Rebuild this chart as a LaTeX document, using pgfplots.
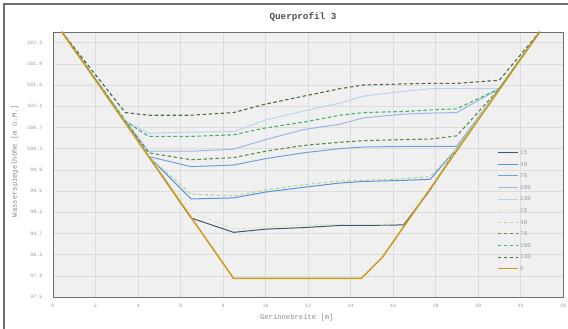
\documentclass[border=0pt]{standalone}
\usepackage{fontspec}
\setmainfont{Liberation Mono}
\usepackage{pgfplots}
\pgfplotsset{compat=1.18}
\definecolor{bggray}{HTML}{F0F0F0}
\definecolor{gridgray}{HTML}{DCDCDC}
\definecolor{framegray}{HTML}{6E6E6E}
\definecolor{tickgray}{HTML}{9A9A9A}
\definecolor{labelgray}{HTML}{8A8A8A}
\definecolor{titlegray}{HTML}{505050}
\definecolor{cSa}{HTML}{44546A}
\definecolor{cSb}{HTML}{5B93D6}
\definecolor{cSc}{HTML}{72A2DC}
\definecolor{cSd}{HTML}{9EB6E6}
\definecolor{cSe}{HTML}{BFD0F0}
\definecolor{cDa}{HTML}{D5E8CB}
\definecolor{cDb}{HTML}{B4D6A2}
\definecolor{cDc}{HTML}{5E8A4E}
\definecolor{cDd}{HTML}{3DB56E}
\definecolor{cDe}{HTML}{4E6B3F}
\definecolor{cGold}{HTML}{CC9A1E}
\begin{document}
\begin{tikzpicture}
\useasboundingbox (0pt,0pt) rectangle (568pt,329pt);
\fill[white] (0pt,0pt) rectangle (568pt,329pt);
\draw[line width=1.3pt, color=framegray] (4pt,0pt) -- (4pt,325pt) -- (568pt,325pt);
\node[font=\fontsize{9.3}{10}\selectfont\bfseries, text=titlegray] at (303pt,312pt) {Querprofil 3};
\begin{axis}[at={(53pt,32pt)}, anchor=south west, width=510pt, height=265pt, scale only axis,
  xmin=0, xmax=24, ymin=97.5, ymax=102.5,
  xtick={0,2,4,6,8,10,12,14,16,18,20,22,24},
  ytick={97.5,97.9,98.3,98.7,99.1,99.5,99.9,100.3,100.7,101.1,101.5,101.9,102.3},
  yticklabel style={/pgf/number format/fixed, /pgf/number format/fixed zerofill, /pgf/number format/precision=1},
  /pgf/number format/assume math mode=true,
  grid=major, grid style={color=gridgray, line width=0.5pt},
  axis background/.style={fill=bggray},
  axis line style={color=framegray, line width=0.9pt},
  major tick length=0pt, tick style={draw=none},
  ticklabel style={font=\fontsize{5}{5}\selectfont, text=tickgray, inner sep=0pt},
  xticklabel style={anchor=center, yshift=-8.6pt},
  yticklabel style={anchor=east, xshift=-10.3pt},
  xlabel={Gerinnebreite [m]},
  ylabel={Wasserspiegelhöhe [m ü.M.]},
  label style={font=\fontsize{7.2}{7.2}\selectfont, text=labelgray},
  xlabel style={at={(axis description cs:0.478,-0.0792)}, anchor=center},
  ylabel style={at={(axis description cs:-0.0745,0.513)}, anchor=center},
  legend style={at={(axis description cs:0.8706,0.552)}, anchor=north west, draw=none, fill=none,
    font=\fontsize{5.9}{5.9}\selectfont, text=tickgray, inner sep=0pt, row sep=8.1pt, column sep=1.5pt,
    nodes={inner sep=0pt, text height=3.5pt, text depth=0pt}},
  legend cell align=left,
  legend image code/.code={\draw[#1] (0pt,0pt) -- (20pt,0pt);},
  every axis plot/.append style={line join=round},
]
\addplot[cSa, line width=1pt] coordinates {(0.42,102.5)(3.4,100.82)(4.5,100.15)(6.5,98.99)(8.5,98.72)(10,98.78)(11.8,98.81)(13.5,98.85)(14.6,98.85)(16.5,98.86)(17.75,99.52)(19,100.30)(21,101.43)(22.9,102.5)};
\addlegendentry{15}
\addplot[cSb, line width=1pt] coordinates {(0.42,102.5)(3.4,100.82)(4.5,100.15)(6.5,99.35)(8.5,99.37)(10,99.48)(11.8,99.57)(13.5,99.65)(14.6,99.68)(16.5,99.70)(17.75,99.72)(19,100.30)(21,101.43)(22.9,102.5)};
\addlegendentry{40}
\addplot[cSc, line width=1pt] coordinates {(0.42,102.5)(3.4,100.82)(4.5,100.15)(6.5,99.96)(8.5,99.99)(10,100.11)(11.8,100.22)(13.5,100.30)(14.6,100.33)(16.5,100.34)(17.75,100.34)(19,100.34)(21,101.43)(22.9,102.5)};
\addlegendentry{70}
\addplot[cSd, line width=1pt] coordinates {(0.42,102.5)(3.4,100.82)(4.5,100.25)(6.5,100.25)(8.5,100.29)(10,100.47)(11.8,100.66)(13.5,100.76)(14.6,100.88)(16.5,100.95)(17.75,100.97)(19,100.98)(21,101.43)(22.9,102.5)};
\addlegendentry{100}
\addplot[cSe, line width=1pt] coordinates {(0.42,102.5)(3.4,100.82)(4.5,100.59)(6.5,100.61)(8.5,100.62)(10,100.84)(11.8,101.01)(13.5,101.16)(14.6,101.29)(16.5,101.38)(17.75,101.43)(19,101.43)(21,101.43)(22.9,102.5)};
\addlegendentry{130}
\addplot[cDa, line width=1.1pt, dash pattern=on 3.5pt off 2.5pt] coordinates {(0.42,102.5)(3.4,100.82)(4.5,100.15)(6.5,99.11)(8.5,98.78)(10,98.82)(11.8,98.86)(13.5,98.87)(14.6,98.87)(15.7,98.87)(16.5,99.02)(17.75,99.52)(19,100.30)(21,101.43)(22.9,102.5)};
\addlegendentry{15}
\addplot[cDb, line width=1.1pt, dash pattern=on 3.5pt off 2.5pt] coordinates {(0.42,102.5)(3.4,100.82)(4.5,100.15)(6.5,99.44)(8.5,99.41)(10,99.52)(11.8,99.62)(13.5,99.69)(14.6,99.70)(16.5,99.73)(17.75,99.77)(19,100.30)(21,101.43)(22.9,102.5)};
\addlegendentry{40}
\addplot[cDc, line width=1.1pt, dash pattern=on 3.5pt off 2.5pt] coordinates {(0.42,102.5)(3.4,100.82)(4.5,100.22)(6.5,100.09)(8.5,100.13)(10,100.25)(11.8,100.36)(13.5,100.42)(14.6,100.45)(16.5,100.47)(17.75,100.48)(19,100.54)(21,101.43)(22.9,102.5)};
\addlegendentry{70}
\addplot[cDd, line width=1.1pt, dash pattern=on 3.5pt off 2.5pt] coordinates {(0.42,102.5)(3.4,100.82)(4.5,100.53)(6.5,100.53)(8.5,100.56)(10,100.69)(11.8,100.80)(13.5,100.93)(14.6,100.98)(16.5,101.00)(17.75,101.03)(19,101.05)(21,101.43)(22.9,102.5)};
\addlegendentry{100}
\addplot[cDe, line width=1.1pt, dash pattern=on 3.5pt off 2.5pt] coordinates {(0.42,102.5)(3.4,100.98)(4.5,100.93)(6.5,100.93)(8.5,100.98)(10,101.14)(11.8,101.29)(13.5,101.43)(14.6,101.50)(16.5,101.52)(17.75,101.53)(19,101.53)(21,101.59)(22.9,102.5)};
\addlegendentry{130}
\addplot[cGold, line width=1.5pt] coordinates {(0.42,102.5)(8.5,97.85)(14.5,97.85)(15.5,98.25)(22.9,102.5)};
\addlegendentry{0}
\end{axis}
\end{tikzpicture}
\end{document}
